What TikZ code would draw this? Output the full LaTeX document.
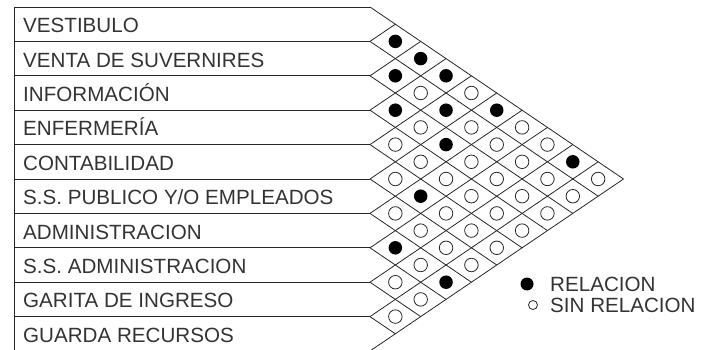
\documentclass[tikz,border=0pt]{standalone}
\usepackage{fontspec}
\setmainfont{Liberation Sans}
\begin{document}
\begin{tikzpicture}[x=1pt,y=-1pt,
  grid/.style={draw=black!85, line width=0.8pt},
  lbl/.style={anchor=base west, inner sep=0pt, font=\fontsize{20.6}{24}\selectfont, text=black!80},
  reldot/.style={circle, fill=black, inner sep=0pt, minimum size=13.5pt},
  nodot/.style={circle, draw=black!85, line width=0.8pt, inner sep=0pt, minimum size=13.5pt},
  legdot/.style={circle, fill=black, inner sep=0pt, minimum size=13pt},
  legopen/.style={circle, draw=black!85, line width=0.8pt, inner sep=0pt, minimum size=9pt},
]
\useasboundingbox (0,0) rectangle (702,350);
\clip (0,0) rectangle (702,350);
\def\xo{370}\def\yo{7}\def\hh{34.4}\def\aa{25.35}\def\bb{17.2}
% label boxes
\foreach \k in {0,...,10} \draw[grid] (14,\yo+\k*\hh) -- (\xo,\yo+\k*\hh);
\draw[grid] (14,\yo) -- (14,\yo+10*\hh);
% diagonal grid
\foreach \k in {0,...,9} \draw[grid] (\xo,\yo+\k*\hh) -- ++({\aa*(10-\k)},{\bb*(10-\k)});
\foreach \k in {1,...,10} \draw[grid] (\xo,\yo+\k*\hh) -- ++({\aa*\k},{-\bb*\k});
% labels
\foreach \t [count=\i] in {{VESTIBULO},{VENTA DE SUVERNIRES},{INFORMACIÓN},{ENFERMERÍA},{CONTABILIDAD},{S.S. PUBLICO Y/O EMPLEADOS},{ADMINISTRACION},{S.S. ADMINISTRACION},{GARITA DE INGRESO},{GUARDA RECURSOS}}
  \node[lbl] (r\i) at (23,{\yo+(\i-0.5)*\hh+8.5}) {\t};
% relations
\foreach \i/\j in {1/2,1/3,2/3,1/4,3/4,2/5,1/6,3/6,1/9,5/7,7/8,7/10}
  \node[reldot] (p\i-\j) at ({\xo+\aa*(\j-\i)},{\yo+\hh*(\i+\j-1)/2}) {};
\foreach \i/\j in {1/5,1/7,1/8,1/10,2/4,2/6,2/7,2/8,2/9,2/10,3/5,3/7,3/8,3/9,3/10,4/5,4/6,4/7,4/8,4/9,4/10,5/6,5/8,5/9,5/10,6/7,6/8,6/9,6/10,7/9,8/9,8/10,9/10}
  \node[nodot] (p\i-\j) at ({\xo+\aa*(\j-\i)},{\yo+\hh*(\i+\j-1)/2}) {};
% legend
\node[legdot] (ld) at (527,284) {};
\node[lbl] (lt1) at (550,291.5) {RELACION};
\node[legopen] (lo) at (533,305) {};
\node[lbl] (lt2) at (550,312.5) {SIN RELACION};
\end{tikzpicture}
\end{document}
